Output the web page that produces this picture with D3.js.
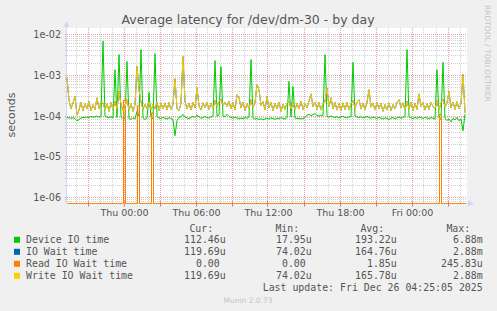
<!DOCTYPE html>
<html>
<head>
<meta charset="utf-8">
<script src="https://cdn.jsdelivr.net/npm/d3@7"></script>
<style>
  body { margin: 0; background: #f0f0f0; }
  svg text { font-family: "DejaVu Sans", sans-serif; fill: #555; }
  svg text.mono { font-family: "DejaVu Sans Mono", monospace; white-space: pre; }
</style>
</head>
<body>
<svg id="chart" width="497" height="311"></svg>
<script>
// samples every 10 minutes from Wed 19:15, values in microseconds
const sampleStart = new Date(2025, 11, 24, 19, 15);
const sampleMinutes = 10;

const deviceIO = [
  92, 90, 88, 91, 86, 76, 82, 89, 93, 90,
  95, 92, 98, 94, 96, 100, 93, 97, 6880, 99,
  94, 91, 96, 89, 1370, 92, 3215, 95, 88, 84,
  2166, 86, 83, 90, 85, 130, 98, 4267, 90, 82,
  88, 380, 92, 85, 3400, 95, 90, 86, 93, 88,
  84, 91, 87, 80, 33, 78, 92, 96, 110, 94,
  90, 86, 93, 98, 92, 105, 95, 88, 91, 97,
  93, 89, 96, 100, 2300, 98, 105, 1630, 100, 96,
  110, 98, 92, 88, 94, 90, 85, 89, 86, 92,
  88, 95, 2422, 90, 84, 87, 82, 86, 80, 85,
  88, 84, 90, 86, 83, 88, 85, 91, 87, 84,
  92, 710, 95, 530, 90, 86, 88, 84, 87, 90,
  105, 110, 102, 108, 115, 104, 99, 106, 101, 3215,
  98, 94, 100, 96, 92, 97, 90, 95, 99, 93,
  90, 94, 98, 2080, 100, 95, 92, 96, 90, 94,
  97, 92, 88, 95, 91, 86, 93, 89, 84, 90,
  87, 82, 88, 92, 85, 90, 94, 88, 92, 96,
  4267, 95, 90, 86, 92, 88, 95, 91, 87, 93,
  89, 85, 92, 88, 84, 1374, 90, 82, 2080, 86,
  78, 84, 72, 88, 80, 92, 76, 85, 43, 112
];

const writeWait = [
  873, 240, 150, 210, 300, 105, 140, 220, 135, 200,
  150, 230, 135, 190, 145, 280, 150, 215, 210, 140,
  200, 130, 215, 145, 230, 150, 400, 190, 135, 175,
  250, 140, 200, 130, 190, 1650, 440, 220, 145, 195,
  150, 225, 140, 190, 150, 220, 135, 205, 150, 210,
  140, 215, 145, 190, 820, 150, 135, 210, 2872, 230,
  150, 205, 140, 215, 160, 495, 175, 140, 210, 160,
  215, 145, 205, 150, 240, 170, 225, 260, 180, 220,
  170, 230, 150, 215, 140, 333, 281, 160, 220, 135,
  200, 150, 250, 160, 215, 587, 442, 180, 225, 140,
  300, 160, 215, 135, 205, 150, 220, 130, 195, 145,
  210, 230, 150, 210, 140, 205, 150, 230, 145, 200,
  160, 235, 350, 170, 220, 145, 215, 140, 200, 230,
  480, 170, 281, 150, 215, 140, 200, 135, 210, 145,
  215, 140, 200, 240, 155, 220, 250, 150, 205, 140,
  220, 442, 165, 210, 140, 215, 150, 205, 130, 190,
  140, 210, 135, 190, 150, 215, 251, 160, 210, 140,
  230, 150, 215, 135, 205, 145, 350, 170, 215, 140,
  200, 145, 215, 170, 150, 240, 140, 210, 260, 165,
  215, 400, 160, 220, 145, 225, 150, 200, 1070, 120
];

const readWait = [
  0, 0, 0, 0, 0, 0, 0, 0, 0, 0,
  0, 0, 0, 0, 0, 0, 0, 0, 0, 0,
  0, 0, 0, 0, 0, 0, 0, 0, 245.83, 0,
  0, 0, 0, 0, 0, 180, 0, 0, 0, 0,
  0, 0, 120, 0, 0, 0, 0, 0, 0, 0,
  0, 0, 0, 0, 0, 0, 0, 0, 0, 0,
  0, 0, 0, 0, 0, 0, 0, 0, 0, 0,
  0, 0, 0, 0, 0, 0, 0, 0, 0, 0,
  0, 0, 0, 0, 0, 0, 0, 0, 0, 0,
  0, 0, 0, 0, 0, 0, 0, 0, 0, 0,
  0, 0, 0, 0, 0, 0, 0, 0, 0, 0,
  0, 0, 0, 0, 0, 0, 0, 0, 0, 0,
  0, 0, 0, 0, 0, 0, 0, 0, 0, 0,
  0, 0, 0, 0, 0, 0, 0, 0, 0, 0,
  0, 0, 0, 0, 0, 0, 0, 0, 0, 0,
  0, 0, 0, 0, 0, 0, 0, 0, 0, 0,
  0, 0, 0, 0, 0, 0, 0, 0, 0, 0,
  0, 0, 0, 0, 0, 0, 0, 0, 0, 0,
  0, 0, 0, 0, 0, 0, 110, 0, 0, 0,
  0, 0, 0, 0, 0, 0, 0, 0, 0, 0
];

// IO wait sits exactly under the write line in the source graph
const ioWait = writeWait.slice();

const seriesNames = ["Device IO time", "IO Wait time", "Read IO Wait time", "Write IO Wait time"];
const seriesColors = ["#00cc00", "#0066b3", "#ff8000", "#ffcc00"];
const legendCur = ["112.46u", "119.69u", "0.00 ", "119.69u"];
const legendMin = ["17.95u", "74.02u", "0.00 ", "74.02u"];
const legendAvg = ["193.22u", "164.76u", "1.85u", "165.78u"];
const legendMax = ["6.88m", "2.88m", "245.83u", "2.88m"];
const yTickLabels = ["1e-06", "1e-05", "1e-04", "1e-03", "1e-02"];

const svg = d3.select("#chart");
const plotLeft = 67, plotRight = 467, plotTop = 28, plotBottom = 203.5;

const x = d3.scaleTime()
  .domain([new Date(2025, 11, 24, 19, 15), new Date(2025, 11, 26, 4, 35)])
  .range([plotLeft, plotRight]);
const y = d3.scaleLog()
  .domain([Math.pow(10, -6.147), Math.pow(10, -1.84)])
  .range([plotBottom, plotTop])
  .clamp(true);

const crisp = v => Math.round(v - 0.5) + 0.5;

// plot canvas
svg.append("rect").attr("x", plotLeft).attr("y", plotTop)
  .attr("width", plotRight - plotLeft).attr("height", plotBottom - plotTop).attr("fill", "#fff");

// horizontal grid
const hGrid = svg.append("g");
for (let d = -7; d <= -1; d++) {
  for (let k = 1; k <= 9; k++) {
    const v = k * Math.pow(10, d);
    if (v < y.domain()[0] || v > y.domain()[1]) continue;
    const yy = crisp(y(v));
    hGrid.append("line").attr("x1", plotLeft).attr("x2", plotRight).attr("y1", yy).attr("y2", yy)
      .attr("stroke", k === 1 ? "#eea0a0" : "#d0d0d0").attr("stroke-dasharray", "1,1");
    hGrid.append("line").attr("x1", plotLeft - 2).attr("x2", plotLeft).attr("y1", yy).attr("y2", yy)
      .attr("stroke", k === 1 ? "#eea0a0" : "#c8c8c8");
  }
}

// vertical grid, hourly with red every 3 hours
const vGrid = svg.append("g");
d3.timeHour.range(x.domain()[0], x.domain()[1]).forEach(t => {
  const xx = crisp(x(t));
  const major = t.getHours() % 3 === 0;
  vGrid.append("line").attr("x1", xx).attr("x2", xx).attr("y1", plotTop).attr("y2", plotBottom)
    .attr("stroke", major ? "#eea0a0" : "#d0d0d0").attr("stroke-dasharray", "1,1");
  if (major) {
    vGrid.append("line").attr("x1", xx).attr("x2", xx).attr("y1", plotBottom - 2).attr("y2", plotBottom + 3)
      .attr("stroke", "#e07070");
  }
});

// axes
svg.append("line").attr("x1", plotLeft - 0.5).attr("x2", plotLeft - 0.5).attr("y1", plotBottom + 0.5).attr("y2", 24)
  .attr("stroke", "#cfd6f8");
svg.append("path").attr("d", "M63.5,27L66.5,21L69.5,27Z").attr("fill", "#cfd6f8");
svg.append("line").attr("x1", plotLeft - 1).attr("x2", 470).attr("y1", plotBottom).attr("y2", plotBottom)
  .attr("stroke", "#cfd6f8");
svg.append("path").attr("d", "M468,200.5L474,203.5L468,206.5Z").attr("fill", "#cfd6f8");

// tick labels
svg.append("g").selectAll("text").data(yTickLabels).enter().append("text")
  .attr("x", 61).attr("y", d => crisp(y(+d)) + 3.5)
  .attr("text-anchor", "end").attr("font-size", "9.6px").text(d => d);

const xTicks = d3.timeHour.every(6).range(x.domain()[0], x.domain()[1]);
svg.append("g").selectAll("text").data(xTicks).enter().append("text")
  .attr("x", d => x(d) + 0.5).attr("y", 216)
  .attr("text-anchor", "middle").attr("font-size", "9.5px")
  .text(d3.timeFormat("%a %H:%M"));

// series lines
const seriesData = [deviceIO, ioWait, readWait, writeWait];
seriesData.forEach((vals, s) => {
  const line = d3.line()
    .x((v, i) => x(new Date(sampleStart.getTime() + i * sampleMinutes * 60000)))
    .y(v => y(Math.max(v * 1e-6, y.domain()[0])))
    .curve(s === 2 ? d3.curveStepAfter : d3.curveLinear);
  svg.append("path").datum(vals).attr("d", line)
    .attr("transform", s === 2 ? "translate(0.5,0)" : null)
    .attr("fill", "none").attr("stroke", seriesColors[s]).attr("stroke-width", 1);
});

// title and side labels
svg.append("text").attr("x", 248).attr("y", 24).attr("text-anchor", "middle")
  .attr("font-size", "12.5px").text("Average latency for /dev/dm-30 - by day");
svg.append("text").attr("transform", "translate(15,115) rotate(-90)")
  .attr("text-anchor", "middle").attr("font-size", "11px").text("seconds");
svg.append("text").attr("transform", "translate(485,5) rotate(90)")
  .attr("font-size", "7.5px").style("fill", "#c4c4c4").text("RRDTOOL / TOBI OETIKER");

// legend
const colEnds = [225.7, 311.7, 396.7, 482.7];
const headers = ["Cur:", "Min:", "Avg:", "Max:"];
headers.forEach((h, c) => {
  svg.append("text").attr("class", "mono").attr("x", colEnds[c] - 12.5).attr("y", 231.5)
    .attr("text-anchor", "end").attr("font-size", "9.9px").text(h);
});
const legendCols = [legendCur, legendMin, legendAvg, legendMax];
seriesNames.forEach((name, s) => {
  const yy = 243.3 + s * 12;
  svg.append("rect").attr("x", 14).attr("y", yy - 6.5).attr("width", 6).attr("height", 6)
    .attr("fill", seriesColors[s]);
  svg.append("text").attr("class", "mono").attr("x", 26).attr("y", yy)
    .attr("font-size", "9.9px").text(name);
  legendCols.forEach((col, c) => {
    svg.append("text").attr("class", "mono").attr("x", colEnds[c]).attr("y", yy)
      .attr("text-anchor", "end").attr("font-size", "9.9px").text(col[s]);
  });
});
svg.append("text").attr("class", "mono").attr("x", 482.7).attr("y", 290.5)
  .attr("text-anchor", "end").attr("font-size", "9.9px")
  .text("Last update: Fri Dec 26 04:25:05 2025");
svg.append("text").attr("x", 248).attr("y", 302.5).attr("text-anchor", "middle")
  .attr("font-size", "7.5px").style("fill", "#c4c4c4").text("Munin 2.0.73");
</script>
</body>
</html>
